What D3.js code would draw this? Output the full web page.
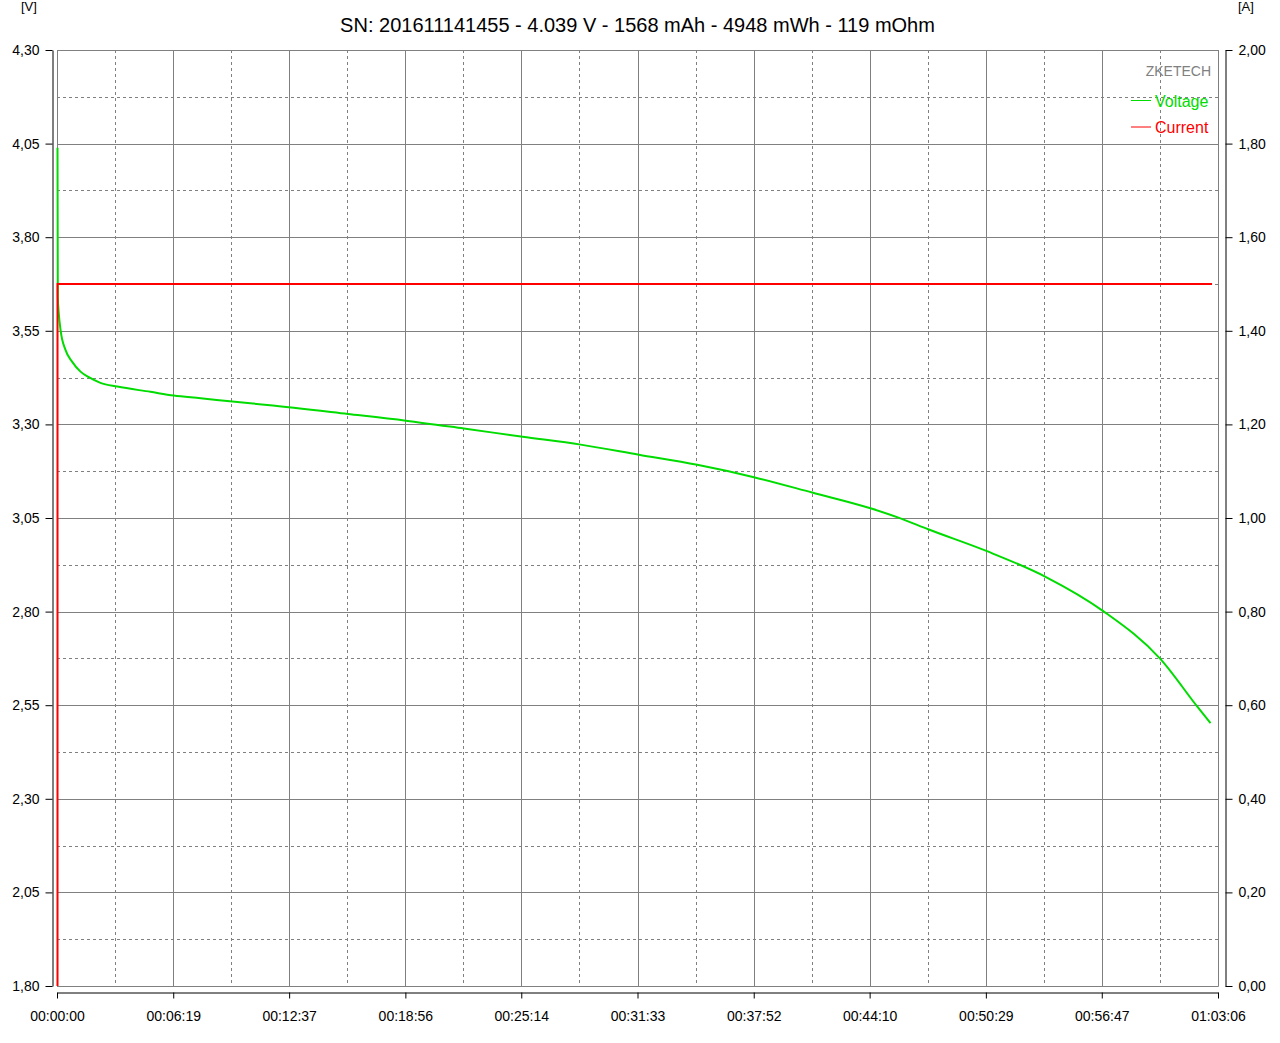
<!DOCTYPE html>
<html>
<head>
<meta charset="utf-8">
<script src="https://cdn.jsdelivr.net/npm/d3@7/dist/d3.min.js"></script>
<style>
  html, body { margin: 0; padding: 0; background: #ffffff; }
  svg { display: block; }
  text { font-family: "Liberation Sans", Arial, sans-serif; }
</style>
</head>
<body>
<svg id="chart" width="1280" height="1043"></svg>
<script>
// ---- data ----
const titleText = "SN: 201611141455 - 4.039 V - 1568 mAh - 4948 mWh - 119 mOhm";
const timeTickLabels = ["00:00:00","00:06:19","00:12:37","00:18:56","00:25:14","00:31:33","00:37:52","00:44:10","00:50:29","00:56:47","01:03:06"];
const voltTickValues = [1.80, 2.05, 2.30, 2.55, 2.80, 3.05, 3.30, 3.55, 3.80, 4.05, 4.30];
const currTickValues = [0.00, 0.20, 0.40, 0.60, 0.80, 1.00, 1.20, 1.40, 1.60, 1.80, 2.00];

// voltage series: time (s) and volts
const voltTime  = [0, 1, 4, 10, 26, 48, 75, 102, 140, 195, 303, 379, 467, 570, 684, 947, 1136, 1325, 1517, 1706, 1896, 2086, 2271, 2461, 2651, 2749, 2839, 3029, 3222, 3409, 3597, 3717, 3760];
const voltValue = [4.039, 3.640, 3.598, 3.552, 3.499, 3.467, 3.441, 3.426, 3.411, 3.401, 3.387, 3.377, 3.370, 3.361, 3.352, 3.328, 3.310, 3.289, 3.267, 3.246, 3.219, 3.192, 3.159, 3.118, 3.076, 3.049, 3.020, 2.962, 2.893, 2.802, 2.673, 2.546, 2.502];
// current series: time (s) and amps
const currTime  = [0, 0, 3765];
const currValue = [0, 1.5, 1.5];

const legendNames = ["Voltage", "Current"];
const legendColors = ["#00dc00", "#ff0000"];

// ---- layout ----
const L = 57, R = 1218, T = 50, B = 986;
const svg = d3.select("#chart");

function toSec(s) { const p = s.split(":").map(Number); return p[0]*3600 + p[1]*60 + p[2]; }
const timeTicks = timeTickLabels.map(toSec);

const x = d3.scaleLinear().domain([0, timeTicks[timeTicks.length-1]]).range([L, R]);
const yV = d3.scaleLinear().domain([1.80, 4.30]).range([B, T]);
const yA = d3.scaleLinear().domain([0, 2.00]).range([B, T]);

const gridColor = "#808080";
const grid = svg.append("g");

// minor dashed grid (midpoints)
const vMid = d3.range(timeTicks.length-1).map(i => (timeTicks[i] + timeTicks[i+1]) / 2);
const hMid = d3.range(voltTickValues.length-1).map(i => (voltTickValues[i] + voltTickValues[i+1]) / 2);
grid.selectAll(".vmid").data(vMid).join("line")
  .attr("x1", d => Math.round(x(d)) + 0.5).attr("x2", d => Math.round(x(d)) + 0.5)
  .attr("y1", T).attr("y2", B)
  .attr("stroke", gridColor).attr("stroke-width", 1).attr("stroke-dasharray", "3,3");
grid.selectAll(".hmid").data(hMid).join("line")
  .attr("y1", d => Math.round(yV(d)) + 0.5).attr("y2", d => Math.round(yV(d)) + 0.5)
  .attr("x1", L).attr("x2", R)
  .attr("stroke", gridColor).attr("stroke-width", 1).attr("stroke-dasharray", "3,3");

// major solid grid
grid.selectAll(".vmaj").data(timeTicks).join("line")
  .attr("x1", d => Math.round(x(d)) + 0.5).attr("x2", d => Math.round(x(d)) + 0.5)
  .attr("y1", T).attr("y2", B + 0.5)
  .attr("stroke", gridColor).attr("stroke-width", 1);
grid.selectAll(".hmaj").data(voltTickValues).join("line")
  .attr("y1", d => Math.round(yV(d)) + 0.5).attr("y2", d => Math.round(yV(d)) + 0.5)
  .attr("x1", L).attr("x2", R + 0.5)
  .attr("stroke", gridColor).attr("stroke-width", 1);

const fmt = d => d3.format(".2f")(d).replace(".", ",");

// left axis
const axL = svg.append("g").attr("transform", "translate(52.5,0)")
  .call(d3.axisLeft(yV).tickValues(voltTickValues).tickFormat(fmt).tickSize(7).tickSizeOuter(0).tickPadding(6));
// right axis
const axR = svg.append("g").attr("transform", "translate(1225.5,0)")
  .call(d3.axisRight(yA).tickValues(currTickValues).tickFormat(fmt).tickSize(7).tickSizeOuter(0).tickPadding(6));
// bottom axis
const axB = svg.append("g").attr("transform", "translate(0,992.5)")
  .call(d3.axisBottom(x).tickValues(timeTicks).tickFormat((d, i) => timeTickLabels[i]).tickSize(6).tickSizeOuter(0).tickPadding(13));

[axL, axR, axB].forEach(a => {
  a.selectAll("text").attr("font-size", 14).attr("fill", "#000").attr("font-family", "'Liberation Sans', Arial, sans-serif");
  a.selectAll("line").attr("stroke", "#000");
  a.select(".domain").attr("stroke", "#000");
});

// unit labels
svg.append("text").attr("x", 21).attr("y", 11).attr("font-size", 13).attr("fill", "#000").text("[V]");
svg.append("text").attr("x", 1238).attr("y", 11).attr("font-size", 13).attr("fill", "#000").text("[A]");

// title
svg.append("text").attr("x", (L + R) / 2).attr("y", 32).attr("text-anchor", "middle")
  .attr("font-size", 20).attr("fill", "#000").text(titleText);

// series
svg.append("defs").append("clipPath").attr("id", "plotclip")
  .append("rect").attr("x", L - 2).attr("y", T).attr("width", R - L + 4).attr("height", B - T + 1);
const plot = svg.append("g").attr("clip-path", "url(#plotclip)");

const voltData = voltTime.map((t, i) => [t, voltValue[i]]);
const currData = currTime.map((t, i) => [t, currValue[i]]);

plot.append("path").datum(voltData)
  .attr("fill", "none").attr("stroke", legendColors[0]).attr("stroke-width", 2)
  .attr("d", d3.line().curve(d3.curveMonotoneX).x(d => x(d[0]) + 0.5).y(d => yV(d[1])));
plot.append("path").datum(currData)
  .attr("fill", "none").attr("stroke", legendColors[1]).attr("stroke-width", 2)
  .attr("d", d3.line().x(d => x(d[0]) + 0.5).y(d => yA(d[1])));

// legend
svg.append("text").attr("x", 1211).attr("y", 76).attr("text-anchor", "end")
  .attr("font-size", 14).attr("fill", "#808080").text("ZKETECH");
legendNames.forEach((n, i) => {
  const yy = 100.5 + i * 26.5;
  svg.append("line").attr("x1", 1131).attr("x2", 1151).attr("y1", yy).attr("y2", yy)
    .attr("stroke", legendColors[i]).attr("stroke-width", 1);
  svg.append("text").attr("x", 1155).attr("y", yy + 6).attr("font-size", 16)
    .attr("fill", legendColors[i]).text(n);
});
</script>
</body>
</html>
